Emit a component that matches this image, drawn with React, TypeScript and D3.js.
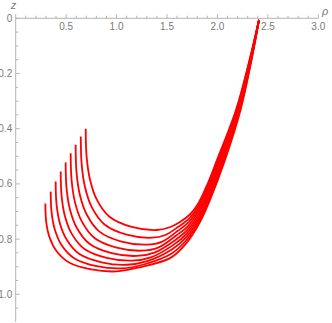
import React from 'react';
import * as d3 from 'd3';

// field lines: [rho, z], innermost first
const line1 = [[0.694, 0.400], [0.703, 0.501], [0.737, 0.585], [0.804, 0.657], [0.930, 0.719], [1.150, 0.756], [1.398, 0.767], [1.520, 0.758], [1.629, 0.738], [1.730, 0.710], [1.807, 0.673], [1.906, 0.597], [1.996, 0.513], [2.184, 0.332], [2.318, 0.151], [2.412, 0.006]];
const line2 = [[0.645, 0.428], [0.654, 0.529], [0.688, 0.613], [0.755, 0.685], [0.881, 0.747], [1.101, 0.784], [1.349, 0.795], [1.484, 0.785], [1.617, 0.754], [1.724, 0.724], [1.810, 0.681], [1.909, 0.605], [2.006, 0.513], [2.190, 0.332], [2.321, 0.151], [2.412, 0.006]];
const line3 = [[0.594, 0.458], [0.603, 0.558], [0.637, 0.641], [0.704, 0.711], [0.830, 0.773], [1.050, 0.809], [1.300, 0.820], [1.448, 0.810], [1.604, 0.771], [1.717, 0.738], [1.812, 0.689], [1.911, 0.612], [2.016, 0.513], [2.195, 0.332], [2.323, 0.151], [2.412, 0.006]];
const line4 = [[0.545, 0.489], [0.554, 0.586], [0.588, 0.667], [0.655, 0.736], [0.781, 0.796], [1.001, 0.831], [1.251, 0.842], [1.412, 0.831], [1.592, 0.787], [1.711, 0.752], [1.815, 0.697], [1.914, 0.620], [2.026, 0.513], [2.201, 0.332], [2.326, 0.151], [2.412, 0.006]];
const line5 = [[0.495, 0.522], [0.504, 0.615], [0.538, 0.693], [0.605, 0.759], [0.731, 0.817], [0.951, 0.851], [1.201, 0.861], [1.376, 0.849], [1.580, 0.804], [1.704, 0.766], [1.817, 0.706], [1.916, 0.628], [2.036, 0.513], [2.206, 0.332], [2.328, 0.151], [2.412, 0.006]];
const line6 = [[0.446, 0.555], [0.455, 0.644], [0.489, 0.718], [0.556, 0.781], [0.682, 0.836], [0.902, 0.868], [1.152, 0.878], [1.340, 0.866], [1.567, 0.820], [1.698, 0.779], [1.820, 0.714], [1.919, 0.635], [2.045, 0.513], [2.212, 0.332], [2.331, 0.151], [2.412, 0.006]];
const line7 = [[0.396, 0.591], [0.405, 0.674], [0.439, 0.744], [0.506, 0.802], [0.632, 0.854], [0.852, 0.884], [1.102, 0.893], [1.304, 0.880], [1.555, 0.836], [1.691, 0.793], [1.822, 0.722], [1.921, 0.643], [2.055, 0.513], [2.218, 0.332], [2.333, 0.151], [2.412, 0.006]];
const line8 = [[0.347, 0.628], [0.356, 0.704], [0.390, 0.768], [0.457, 0.823], [0.583, 0.870], [0.803, 0.898], [1.053, 0.906], [1.268, 0.892], [1.542, 0.853], [1.685, 0.807], [1.825, 0.730], [1.924, 0.650], [2.065, 0.513], [2.223, 0.332], [2.336, 0.151], [2.412, 0.006]];
const line9 = [[0.294, 0.671], [0.303, 0.739], [0.337, 0.795], [0.404, 0.843], [0.530, 0.885], [0.750, 0.910], [1.000, 0.917], [1.232, 0.902], [1.530, 0.869], [1.678, 0.821], [1.827, 0.738], [1.926, 0.658], [2.075, 0.513], [2.229, 0.332], [2.338, 0.151], [2.412, 0.006]];

const rhoTicks = [0.5, 1.0, 1.5, 2.0, 2.5, 3.0];
const zTicks = [0, 0.2, 0.4, 0.6, 0.8, 1.0];

const W = 332, H = 323;
const grey = '#b3b3b3';
const labelGrey = '#7a7a7a';

export default function App() {
    const x = d3.scaleLinear().domain([0, 3]).range([15.7, 318.3]);
    const y = d3.scaleLinear().domain([0, 1.1]).range([18.3, 321.9]);

    const path = d3.line<number[]>()
        .x(d => x(d[0]))
        .y(d => y(d[1]))
        .curve(d3.curveCatmullRom.alpha(0.5));

    const lines = [line1, line2, line3, line4, line5, line6, line7, line8, line9];
    const xMinor = x.ticks(30);
    const yMinor = d3.range(0, 1.1, 0.05);

    return (
        <svg width={W} height={H} style={{ position: 'fixed', left: 0, top: 0, background: '#fff' }}
             fontFamily="'Liberation Sans', Arial, sans-serif">
            {/* axes */}
            <line x1={x(0)} x2={x(3)} y1={y(0)} y2={y(0)} stroke={grey} strokeWidth={1} />
            <line x1={x(0)} x2={x(0)} y1={y(0)} y2={y(1.1)} stroke={grey} strokeWidth={1} />
            {xMinor.map((t, i) => (
                <line key={'xm' + i} x1={x(t)} x2={x(t)} y1={y(0)} y2={y(0) - (i % 5 === 0 ? 4 : 2.5)}
                      stroke={grey} strokeWidth={1} />
            ))}
            {yMinor.map((t, i) => (
                <line key={'ym' + i} y1={y(t)} y2={y(t)} x1={x(0)} x2={x(0) + (i % 4 === 0 ? 4 : 2.5)}
                      stroke={grey} strokeWidth={1} />
            ))}
            {rhoTicks.map(t => (
                <text key={'xt' + t} x={x(t)} y={y(0) + 12} textAnchor="middle" fontSize={10} fill={labelGrey}>
                    {t.toFixed(1)}
                </text>
            ))}
            {zTicks.map(t => (
                <text key={'yt' + t} x={x(0) - 3.5} y={y(t) + 3.5} textAnchor="end" fontSize={10} fill={labelGrey}>
                    {t === 0 ? '0' : t.toFixed(1)}
                </text>
            ))}
            <text x={13.5} y={9} textAnchor="middle" fontSize={11} fontStyle="italic" fill={labelGrey}>z</text>
            <text x={322} y={15} textAnchor="start" fontSize={11} fontStyle="italic" fill={labelGrey}>ρ</text>

            {/* curves */}
            {lines.map((l, i) => (
                <path key={i} d={path(l) ?? ''} fill="none" stroke="#ff0000" strokeWidth={1.8} />
            ))}
        </svg>
    );
}
